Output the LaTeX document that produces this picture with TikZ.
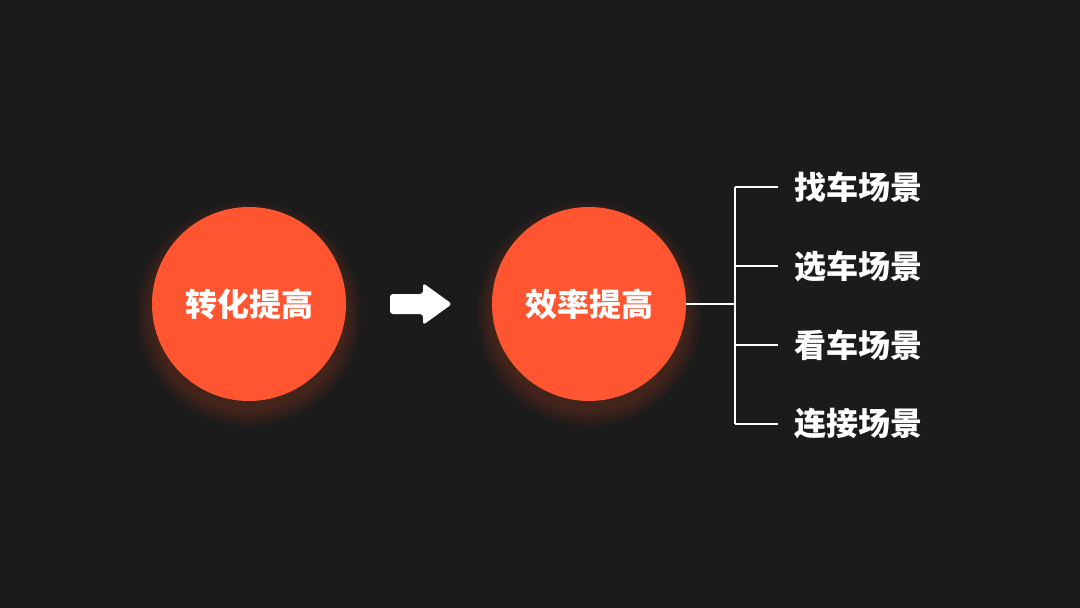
\documentclass[tikz,border=0pt]{standalone}
\usepackage{fontspec}
\newfontfamily\cjk{Noto Sans CJK SC}
\begin{document}
\begin{tikzpicture}[x=1pt,y=-1pt,
  circ/.style={circle,fill=orng,minimum size=194pt,inner sep=0pt,text=white,font=\cjk\bfseries\fontsize{32}{32}\selectfont},
  lbl/.style={anchor=west,text=white,inner sep=0pt,font=\cjk\bfseries\fontsize{32}{32}\selectfont},
  wline/.style={draw=white,line width=2.4pt}]
\definecolor{orng}{HTML}{FF5631}
\definecolor{bg}{HTML}{1B1B1B}
\fill[bg] (0,0) rectangle (1080,608);
\useasboundingbox (0,0) rectangle (1080,608);
\foreach \c in {249,589}{
  \foreach \r in {113,111,...,97}{
    \fill[orng,opacity=0.025] (\c,314) circle (\r);
  }
}
\node[circ] (a) at (249,304) {转化提高};
\node[circ] (b) at (589,304) {效率提高};
\fill[white,rounded corners=3pt] (390,294) -- (423,294) -- (423,283) -- (452,304) -- (423,325) -- (423,314) -- (390,314) -- cycle;
\coordinate (j) at (735,304);
\coordinate (t) at (735,187);
\coordinate (bt) at (735,424);
\node[lbl] (l1) at (794,187) {找车场景};
\node[lbl] (l2) at (794,266) {选车场景};
\node[lbl] (l3) at (794,345) {看车场景};
\node[lbl] (l4) at (794,424) {连接场景};
\draw[wline] (b.east) -- (j);
\draw[wline] (t) -- (bt);
\foreach \i/\y in {1/187,2/266,3/345,4/424}{
  \draw[wline] (735,\y) -- ([xshift=-16pt]l\i.west);
}
\end{tikzpicture}
\end{document}
